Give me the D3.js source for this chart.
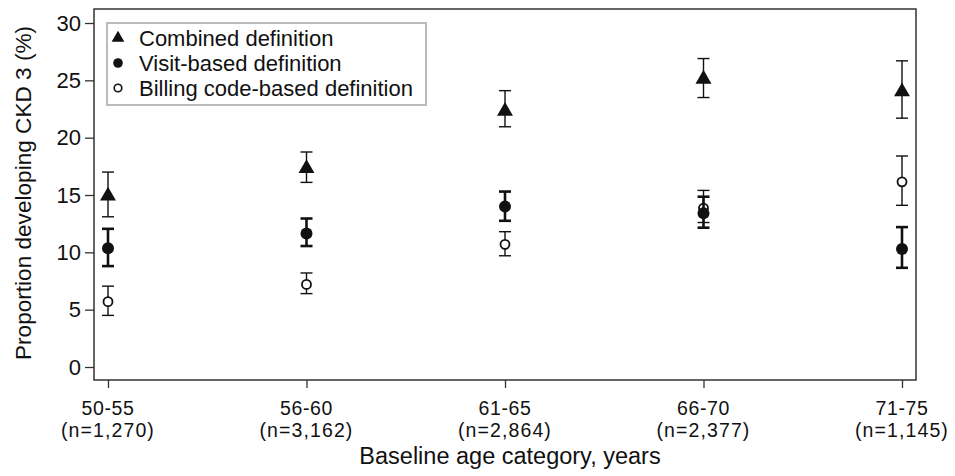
<!DOCTYPE html>
<html lang="en">
<head>
<meta charset="UTF-8">
<title>Proportion developing CKD 3</title>
<style>
  body { margin: 0; background: #fff; }
  svg text { font-family: "Liberation Sans", Arial, sans-serif; fill: #111; }
</style>
</head>
<body>
<svg width="955" height="476"></svg>
<script src="https://cdnjs.cloudflare.com/ajax/libs/d3/7.8.5/d3.min.js"></script>
<script>
// categories and group sizes
const ageGroups = ['50-55', '56-60', '61-65', '66-70', '71-75'];
const groupN = ['(n=1,270)', '(n=3,162)', '(n=2,864)', '(n=2,377)', '(n=1,145)'];

// estimate, lower, upper (%)
const combined = [15.0, 17.4, 22.4, 25.2, 24.1];
const combinedLo = [13.1, 16.1, 20.95, 23.5, 21.7];
const combinedHi = [17.0, 18.75, 24.1, 26.9, 26.7];

const visit = [10.35, 11.65, 14.0, 13.4, 10.3];
const visitLo = [8.8, 10.55, 12.75, 12.15, 8.65];
const visitHi = [12.05, 12.95, 15.3, 14.85, 12.2];

const billing = [5.7, 7.2, 10.7, 13.85, 16.15];
const billingLo = [4.5, 6.4, 9.7, 12.6, 14.1];
const billingHi = [7.05, 8.2, 11.8, 15.4, 18.4];

const yTicks = [0, 5, 10, 15, 20, 25, 30];

const svg = d3.select('svg');
const plotLeft = 94, plotRight = 916, plotTop = 9, plotBottom = 380;

const x = d3.scalePoint().domain(ageGroups).range([108, 902]);
const y = d3.scaleLinear().domain([0, 30]).range([367, 23]);

// frame
svg.append('rect')
  .attr('x', plotLeft).attr('y', plotTop)
  .attr('width', plotRight - plotLeft).attr('height', plotBottom - plotTop)
  .attr('fill', 'none').attr('stroke', '#333').attr('stroke-width', 1.5);

// y axis
const yAxis = svg.append('g')
  .attr('transform', `translate(${plotLeft},0)`)
  .call(d3.axisLeft(y).tickValues(yTicks).tickSize(9).tickPadding(4));
yAxis.select('.domain').remove();
yAxis.selectAll('line').attr('stroke', '#333').attr('stroke-width', 1.3);
yAxis.selectAll('text').attr('font-size', 22).attr('font-family', null).style('fill', '#111');

// x axis
const xAxis = svg.append('g')
  .attr('transform', `translate(0,${plotBottom})`)
  .call(d3.axisBottom(x).tickSize(8).tickFormat(''));
xAxis.select('.domain').remove();
xAxis.selectAll('line').attr('stroke', '#333').attr('stroke-width', 1.3);

// category labels, two lines each
svg.append('g').selectAll('text')
  .data(ageGroups)
  .join('text')
  .attr('x', d => x(d)).attr('y', 415)
  .attr('text-anchor', 'middle').attr('font-size', 19.5)
  .attr('letter-spacing', 0.6)
  .text(d => d);

svg.append('g').selectAll('text')
  .data(groupN)
  .join('text')
  .attr('x', (d, i) => x(ageGroups[i])).attr('y', 437)
  .attr('text-anchor', 'middle').attr('font-size', 19.5)
  .attr('letter-spacing', 1.1)
  .text(d => d);

svg.append('text')
  .attr('x', 510).attr('y', 464)
  .attr('text-anchor', 'middle').attr('font-size', 23.5)
  .text('Baseline age category, years');

svg.append('text')
  .attr('transform', 'translate(31,193) rotate(-90)')
  .attr('text-anchor', 'middle').attr('font-size', 22.6)
  .text('Proportion developing CKD 3 (%)');

// error bars + markers
const series = [
  { est: combined, lo: combinedLo, hi: combinedHi, width: 1.4, shape: 'tri' },
  { est: billing, lo: billingLo, hi: billingHi, width: 1.4, shape: 'open' },
  { est: visit, lo: visitLo, hi: visitHi, width: 2.6, shape: 'dot' }
];

const triangle = d3.symbol().type(d3.symbolTriangle).size(110);

series.forEach(s => {
  const g = svg.append('g');
  ageGroups.forEach((c, i) => {
    const cx = x(c);
    g.append('line')
      .attr('x1', cx).attr('x2', cx)
      .attr('y1', y(s.lo[i])).attr('y2', y(s.hi[i]))
      .attr('stroke', '#111').attr('stroke-width', s.width);
    [s.lo[i], s.hi[i]].forEach(v => {
      g.append('line')
        .attr('x1', cx - 6).attr('x2', cx + 6)
        .attr('y1', y(v)).attr('y2', y(v))
        .attr('stroke', '#111').attr('stroke-width', s.width);
    });
    if (s.shape === 'tri') {
      g.append('path').attr('d', triangle)
        .attr('transform', `translate(${cx},${y(s.est[i]) + 1})`)
        .attr('fill', '#111');
    } else if (s.shape === 'dot') {
      g.append('circle').attr('cx', cx).attr('cy', y(s.est[i])).attr('r', 6)
        .attr('fill', '#111');
    } else {
      g.append('circle').attr('cx', cx).attr('cy', y(s.est[i])).attr('r', 4.5)
        .attr('fill', '#fff').attr('stroke', '#111').attr('stroke-width', 1.8);
    }
  });
});

// legend
const legendItems = ['Combined definition', 'Visit-based definition', 'Billing code-based definition'];
const legendShapes = ['tri', 'dot', 'open'];
const lg = svg.append('g');
lg.append('rect')
  .attr('x', 107).attr('y', 23).attr('width', 319).attr('height', 82)
  .attr('fill', '#fff').attr('stroke', '#bbb').attr('stroke-width', 2);
legendItems.forEach((t, i) => {
  const cy = 38 + i * 25;
  const sh = legendShapes[i];
  if (sh === 'tri') {
    lg.append('path').attr('d', d3.symbol().type(d3.symbolTriangle).size(70))
      .attr('transform', `translate(118,${cy})`).attr('fill', '#111');
  } else if (sh === 'dot') {
    lg.append('circle').attr('cx', 118).attr('cy', cy).attr('r', 4.8).attr('fill', '#111');
  } else {
    lg.append('circle').attr('cx', 118).attr('cy', cy).attr('r', 3.8)
      .attr('fill', '#fff').attr('stroke', '#111').attr('stroke-width', 1.6);
  }
  lg.append('text')
    .attr('x', 139).attr('y', cy + 8)
    .attr('font-size', 22)
    .text(t);
});
</script>
</body>
</html>
